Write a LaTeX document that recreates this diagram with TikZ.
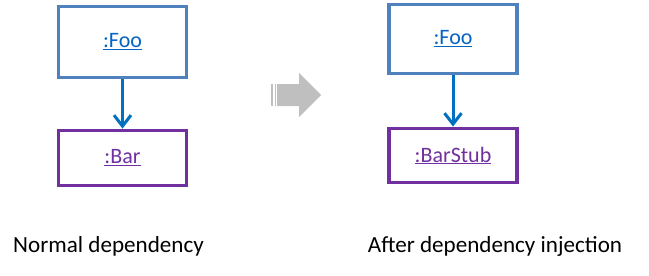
\documentclass[tikz,border=0pt]{standalone}
\usepackage{fontspec}
\setmainfont{Carlito}
\usetikzlibrary{arrows.meta}
\definecolor{fooline}{HTML}{4F81BD}
\definecolor{barline}{HTML}{7030A0}
\definecolor{linkblue}{HTML}{0563C1}
\definecolor{arrowblue}{HTML}{0070C0}
\definecolor{bigarrow}{HTML}{BFBFBF}
\tikzset{
  foobox/.style={draw=fooline, line width=3.8pt, minimum width=128pt, inner sep=0pt, font=\fontsize{22}{26}\selectfont, text=linkblue},
  barbox/.style={draw=barline, line width=3.8pt, minimum width=128pt, inner sep=0pt, font=\fontsize{22}{26}\selectfont, text=barline},
  dep/.style={draw=arrowblue, line width=3pt, -{Straight Barb[length=11pt,width=17pt,line width=3pt]}},
  caption/.style={font=\fontsize{23.1}{28}\selectfont, text=black, inner sep=0pt}
}
\begin{document}
\begin{tikzpicture}[x=1pt,y=-1pt]
\useasboundingbox (0,0) rectangle (649,276);
\node[foobox, minimum height=71pt] (foo1) at (122.5,42) {\underline{:Foo}};
\node[barbox, minimum height=55pt] (bar1) at (122.5,158) {\underline{:Bar}};
\draw[dep] (foo1) -- (bar1);
\node[foobox, minimum height=69pt] (foo2) at (453,39) {\underline{:Foo}};
\node[barbox, minimum height=54pt] (bar2) at (453,155.5) {\underline{:BarStub}};
\draw[dep] (foo2) -- (bar2);
% big gray arrow
\fill[bigarrow] (271,84) rectangle (273,106);
\fill[bigarrow] (274.5,84) rectangle (276,106);
\fill[bigarrow] (277,84) -- (299,84) -- (299,73) -- (321,95) -- (299,117) -- (299,106) -- (277,106) -- cycle;
\node[caption] (cap1) at (108.5,246) {Normal dependency};
\node[caption] (cap2) at (495,246) {After dependency injection};
\end{tikzpicture}
\end{document}
